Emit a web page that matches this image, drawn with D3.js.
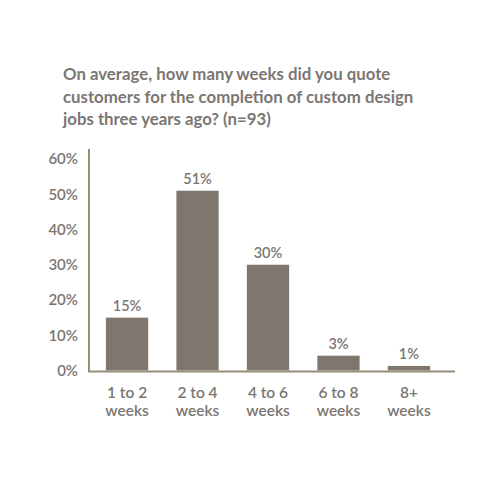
<!DOCTYPE html>
<html>
<head>
<meta charset="utf-8">
<script src="https://cdn.jsdelivr.net/npm/d3@7"></script>
<style>
  body { margin: 0; background: #fff; }
  text { font-family: Lato, "Open Sans", sans-serif; }
</style>
</head>
<body>
<div id="chart"></div>
<script>
// Data
const categories = ["1 to 2|weeks", "2 to 4|weeks", "4 to 6|weeks", "6 to 8|weeks", "8+|weeks"];
const values = [15, 51, 30, 4.2, 1.3];          // bar heights as drawn
const valueLabels = ["15%", "51%", "30%", "3%", "1%"];
const yTicks = [0, 10, 20, 30, 40, 50, 60];
const titleLines = [
    "On average, how many weeks did you quote",
    "customers for the completion of custom design",
    "jobs three years ago? (n=93)"
];

const W = 500, H = 500;
const textColor = "#7b7672";
const barColor = "#7f776d";
const axisColor = "#958d79";

const svg = d3.select("#chart")
    .append("svg")
    .attr("width", W)
    .attr("height", H);

// Title
svg.append("g")
    .selectAll("text")
    .data(titleLines)
    .join("text")
    .attr("x", 63)
    .attr("y", (d, i) => 80 + i * 22.5)
    .attr("fill", textColor)
    .attr("font-size", 16.8)
    .attr("font-weight", 700)
    .text(d => d);

// Scales
const x = d3.scaleBand()
    .domain(categories)
    .range([89, 447])
    .paddingInner(0.4)
    .paddingOuter(0.24);

const y = d3.scaleLinear()
    .domain([0, 60])
    .range([370.5, 159]);

// Y tick labels
svg.append("g")
    .selectAll("text")
    .data(yTicks)
    .join("text")
    .attr("x", 78)
    .attr("y", d => y(d))
    .attr("dy", "0.35em")
    .attr("text-anchor", "end")
    .attr("fill", textColor)
    .attr("font-size", 15)
    .attr("font-weight", 600)
    .text(d => d + "%");

// Bars
svg.append("g")
    .selectAll("rect")
    .data(values)
    .join("rect")
    .attr("x", (d, i) => x(categories[i]))
    .attr("y", d => y(d))
    .attr("width", x.bandwidth())
    .attr("height", d => y(0) - y(d))
    .attr("fill", barColor);

// Value labels
svg.append("g")
    .selectAll("text")
    .data(values)
    .join("text")
    .attr("x", (d, i) => x(categories[i]) + x.bandwidth() / 2)
    .attr("y", d => y(d) - 7)
    .attr("text-anchor", "middle")
    .attr("fill", textColor)
    .attr("font-size", 14.5)
    .attr("font-weight", 600)
    .text((d, i) => valueLabels[i]);

// Axis lines
svg.append("line")
    .attr("x1", 89).attr("x2", 89)
    .attr("y1", 149).attr("y2", y(0) + 1)
    .attr("stroke", axisColor)
    .attr("stroke-width", 2);
svg.append("line")
    .attr("x1", 88).attr("x2", 455)
    .attr("y1", y(0) + 1).attr("y2", y(0) + 1)
    .attr("stroke", axisColor)
    .attr("stroke-width", 2);

// Category labels (two lines)
const cat = svg.append("g")
    .selectAll("text")
    .data(categories)
    .join("text")
    .attr("x", d => x(d) + x.bandwidth() / 2)
    .attr("y", 398)
    .attr("text-anchor", "middle")
    .attr("fill", textColor)
    .attr("font-size", 15.5)
    .attr("font-weight", 600);
cat.selectAll("tspan")
    .data(d => d.split("|"))
    .join("tspan")
    .attr("x", function () { return d3.select(this.parentNode).attr("x"); })
    .attr("dy", (d, i) => i === 0 ? 0 : 18)
    .text(d => d);
</script>
</body>
</html>
